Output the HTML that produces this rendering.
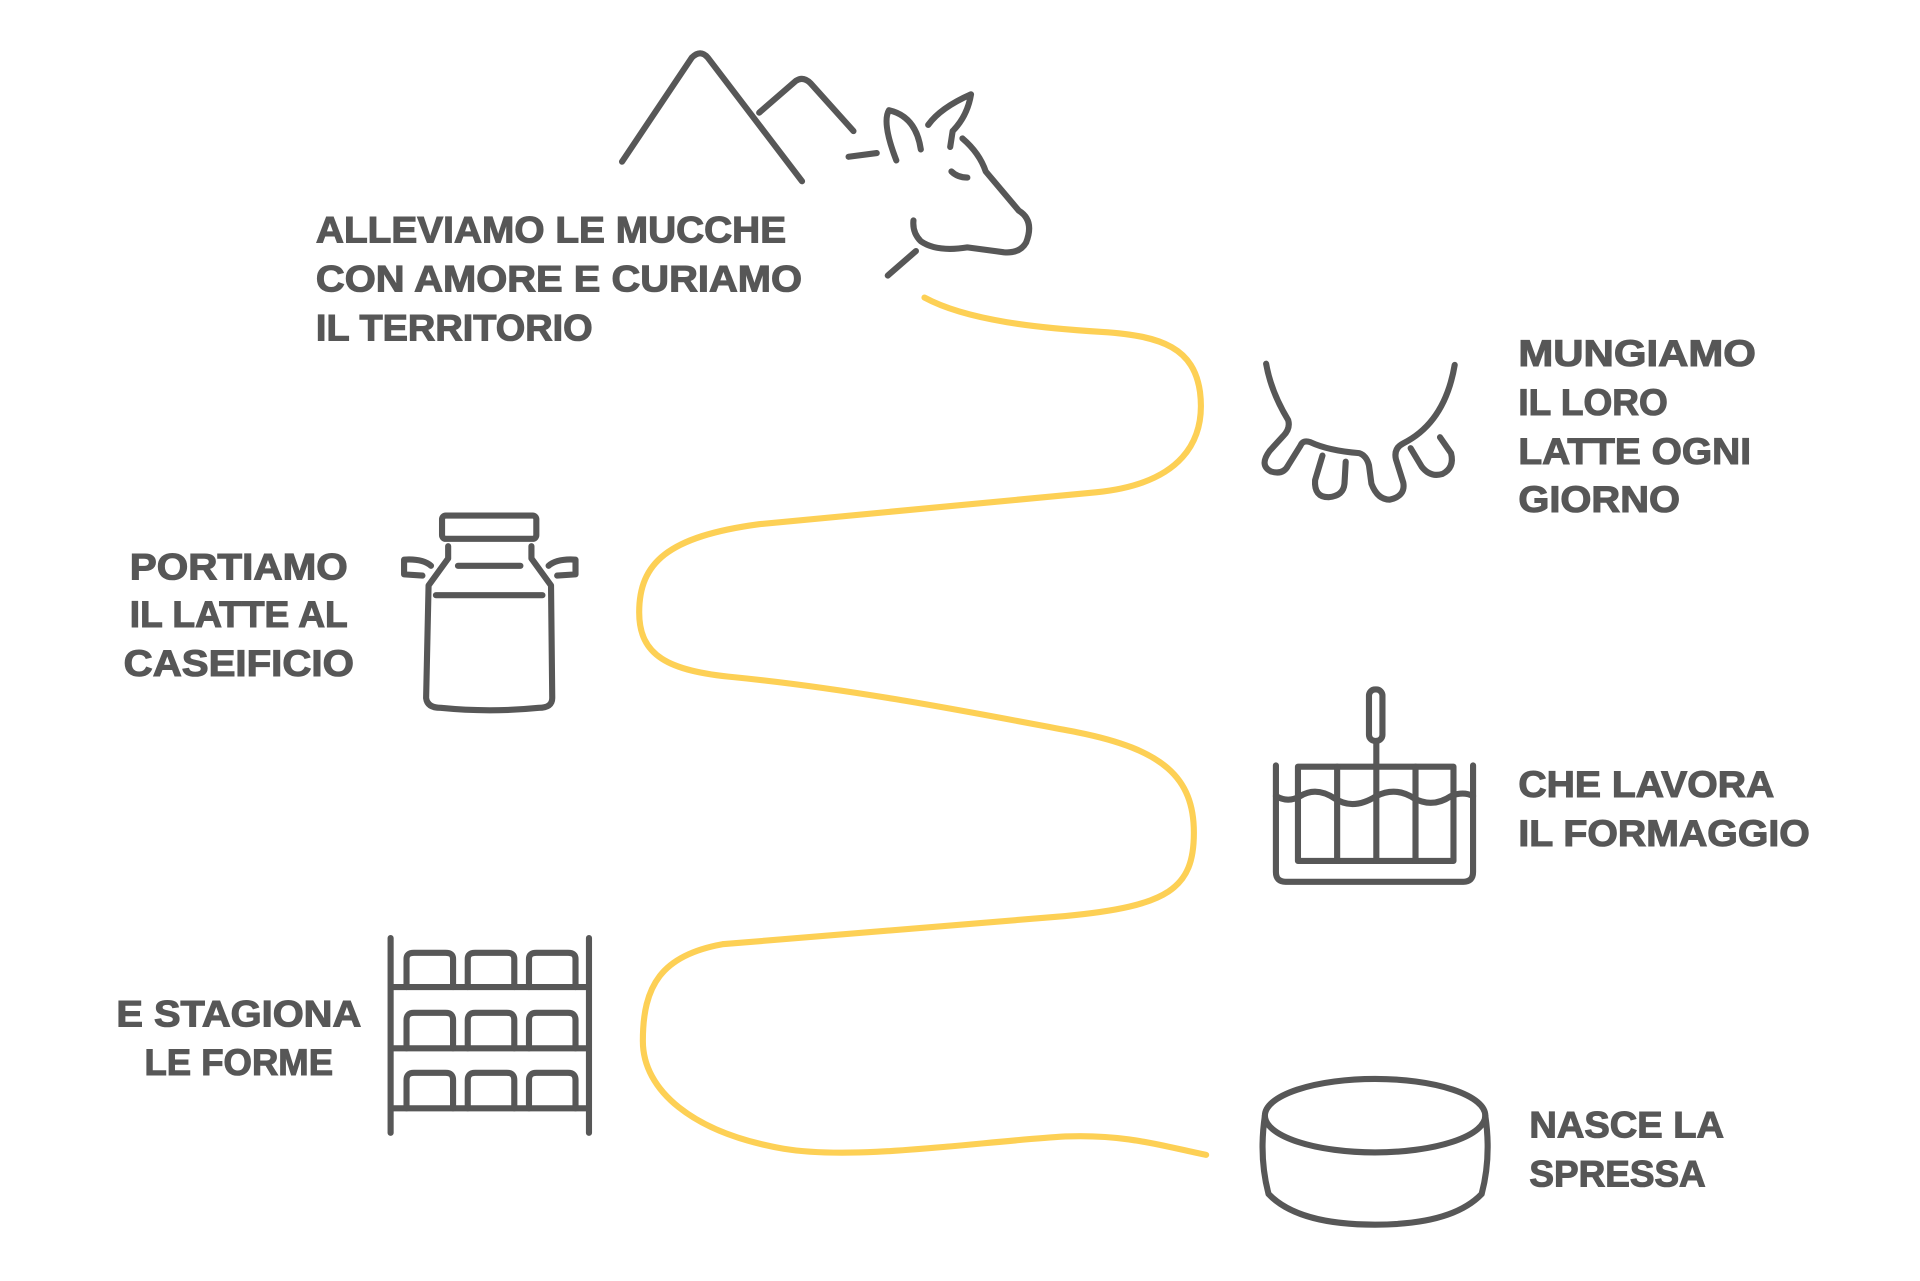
<!DOCTYPE html>
<html><head><meta charset="utf-8"><style>
html,body{margin:0;padding:0;background:#fff;}
svg{display:block;}
text{font-family:"Liberation Sans",sans-serif;font-weight:bold;fill:#575757;stroke:#575757;stroke-width:0.9px;font-size:30px;}
</style></head><body>
<svg width="1920" height="1281" viewBox="0 0 1568 1046" preserveAspectRatio="none" xmlns="http://www.w3.org/2000/svg">
<rect width="1568" height="1046" fill="#fff"/>
<path d="M755,243 C790,262 850,268 900,271 C950,274 975,285 980,320 C985,360 965,395 895,402 L620,428 C545,438 522,460 522,500 C522,535 545,548 600,553 C700,563 800,583 880,598 C950,612 975,635 975,680 C975,725 955,740 870,748 L590,771 C540,780 525,805 525,850 C525,890 565,925 640,938 C700,948 800,932 870,928 C920,926 950,936 985,943" fill="none" stroke="#fdd055" stroke-width="5" stroke-linecap="round"/>
<g fill="none" stroke="#575757" stroke-width="5" stroke-linecap="round" stroke-linejoin="round">
<path d="M508,132 L565,47 Q572,40 578,47 L655,148"/>
<path d="M620,92 L650,66 Q656,62 662,68 L697,107"/>
<path d="M693,128 L716,125"/>
<path d="M732,131 Q720,100 726,90 Q748,95 752,122"/>
<path d="M758,102 Q768,88 793,77 Q790,95 778,107 L776,120"/>
<path d="M786,113 Q800,125 805,140 L832,172 Q845,180 838,198 Q833,207 820,206 L790,202 Q765,206 752,197 Q745,190 746,180"/>
<path d="M777,140 Q782,145 790,145"/>
<path d="M725,225 L748,205"/>
<path d="M1034,297 Q1038,320 1052,343 Q1054,350 1048,356 L1037,368 Q1028,380 1038,385 Q1048,388 1052,380 L1062,364 Q1064,359 1070,361 Q1085,368 1110,370 Q1116,372 1118,380 L1120,395 Q1125,408 1135,408 Q1148,405 1146,394 L1140,375 Q1138,366 1146,362 Q1180,345 1188,298"/>
<path d="M1080,372 L1074,392 Q1073,406 1085,406 Q1097,405 1098,395 L1099,377"/>
<path d="M1152,366 L1161,381 Q1168,390 1178,387 Q1188,382 1185,370 L1176,357"/>
<rect x="361" y="421" width="77" height="19" rx="3"/>
<path d="M366,446 L366,456 L350,478 L348,570 Q349,578 360,578 Q400,582 440,578 Q451,578 451,570 L450,478 L434,456 L434,446"/>
<path d="M374,462 L425,462 M356,486 L443,486"/>
<path d="M352,462 Q345,456 330,457 L330,469 L345,470"/>
<path d="M448,462 Q455,456 470,457 L470,469 L455,470"/>
<path d="M1042,625 L1042,712 Q1042,720 1050,720 L1195,720 Q1203,720 1203,712 L1203,625"/>
<rect x="1060" y="626" width="127" height="77"/>
<path d="M1092,626 L1092,703 M1156,626 L1156,703 M1124,605 L1124,703"/>
<rect x="1118" y="563" width="11" height="42" rx="5"/>
<path d="M1042,650 Q1052,656 1062,650 Q1075,642 1090,652 Q1105,662 1124,650 Q1140,642 1155,652 Q1170,660 1185,650 Q1195,646 1203,650"/>
<path d="M319,766 L319,925 M481,766 L481,925 M319,806 L481,806 M319,856 L481,856 M319,905 L481,905"/>
<path d="M332,806 L332,783 Q332,778 338,778 L364,778 Q370,778 370,783 L370,806 M382,806 L382,783 Q382,778 388,778 L414,778 Q420,778 420,783 L420,806 M432,806 L432,783 Q432,778 438,778 L464,778 Q470,778 470,783 L470,806"/>
<path d="M332,856 L332,833 Q332,827 338,827 L364,827 Q370,827 370,833 L370,856 M382,856 L382,833 Q382,827 388,827 L414,827 Q420,827 420,833 L420,856 M432,856 L432,833 Q432,827 438,827 L464,827 Q470,827 470,833 L470,856"/>
<path d="M332,905 L332,882 Q332,876 338,876 L364,876 Q370,876 370,882 L370,905 M382,905 L382,882 Q382,876 388,876 L414,876 Q420,876 420,882 L420,905 M432,905 L432,882 Q432,876 438,876 L464,876 Q470,876 470,882 L470,905"/>
<ellipse cx="1123" cy="911" rx="90" ry="30"/>
<path d="M1033,911 Q1028,945 1036,975 Q1060,1000 1123,1000 Q1186,1000 1210,975 Q1218,945 1213,911"/>
</g>
<text x="258" y="198" textLength="384" lengthAdjust="spacingAndGlyphs">ALLEVIAMO LE MUCCHE</text>
<text x="258" y="238" textLength="397" lengthAdjust="spacingAndGlyphs">CON AMORE E CURIAMO</text>
<text x="258" y="278" textLength="226" lengthAdjust="spacingAndGlyphs">IL TERRITORIO</text>
<text x="1240" y="299" textLength="194" lengthAdjust="spacingAndGlyphs">MUNGIAMO</text>
<text x="1240" y="339" textLength="122" lengthAdjust="spacingAndGlyphs">IL LORO</text>
<text x="1240" y="379" textLength="190" lengthAdjust="spacingAndGlyphs">LATTE OGNI</text>
<text x="1240" y="418" textLength="132" lengthAdjust="spacingAndGlyphs">GIORNO</text>
<text x="106" y="473" textLength="178" lengthAdjust="spacingAndGlyphs">PORTIAMO</text>
<text x="106" y="512" textLength="178" lengthAdjust="spacingAndGlyphs">IL LATTE AL</text>
<text x="101" y="552" textLength="188" lengthAdjust="spacingAndGlyphs">CASEIFICIO</text>
<text x="1240" y="651" textLength="209" lengthAdjust="spacingAndGlyphs">CHE LAVORA</text>
<text x="1240" y="691" textLength="238" lengthAdjust="spacingAndGlyphs">IL FORMAGGIO</text>
<text x="95" y="838" textLength="200" lengthAdjust="spacingAndGlyphs">E STAGIONA</text>
<text x="118" y="878" textLength="154" lengthAdjust="spacingAndGlyphs">LE FORME</text>
<text x="1249" y="929" textLength="159" lengthAdjust="spacingAndGlyphs">NASCE LA</text>
<text x="1249" y="969" textLength="144" lengthAdjust="spacingAndGlyphs">SPRESSA</text>
</svg>
</body></html>
